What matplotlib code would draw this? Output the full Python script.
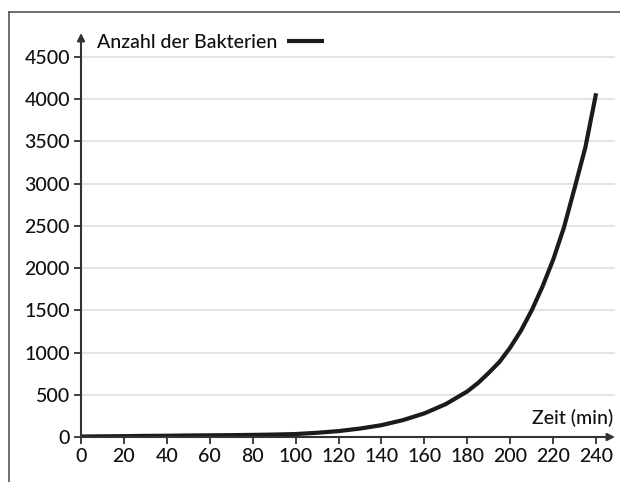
import matplotlib
matplotlib.use('Agg')
import matplotlib.pyplot as plt
from matplotlib.lines import Line2D

plt.rcParams['font.family'] = ['Lato', 'DejaVu Sans']
plt.rcParams['font.weight'] = 'medium'

# Zeit in Minuten und Anzahl der Bakterien
zeit = [0, 10, 20, 30, 40, 50, 60, 70, 80, 90, 100, 110, 120, 130, 140, 150,
        160, 170, 180, 185, 190, 195, 200, 205, 210, 215, 220, 225, 230, 235, 240]
anzahl = [5, 8, 10, 13, 15, 18, 20, 22, 25, 29, 35, 50, 70, 100, 140, 200,
          280, 390, 540, 640, 760, 890, 1060, 1260, 1500, 1780, 2100, 2480, 2950, 3430, 4070]

x_ticks = list(range(0, 241, 20))
y_ticks = list(range(0, 4501, 500))

label_serie = 'Anzahl der Bakterien'
label_x = 'Zeit (min)'

text_color = '#111111'

fig = plt.figure(figsize=(6.2, 4.82), dpi=100)
ax = fig.add_axes([81 / 620, 45 / 482, 534 / 620, 404 / 482])

ax.plot(zeit, anzahl, color='#1c1a1b', lw=3.0, solid_capstyle='butt',
        solid_joinstyle='round', label=label_serie, zorder=3)

ax.set_xlim(0, 248.8)
ax.set_ylim(0, 4784)
ax.set_xticks(x_ticks)
ax.set_yticks(y_ticks)
ax.tick_params(axis='both', labelsize=14, colors='#333333', labelcolor=text_color,
               length=5, width=1.3, direction='out')
ax.tick_params(axis='x', pad=3)
ax.tick_params(axis='y', pad=3)

ax.grid(axis='y', color='#dcdcdc', lw=1.1)
ax.set_axisbelow(True)
for s in ax.spines.values():
    s.set_visible(False)

arrow = dict(arrowstyle='-|>', color='#333333', lw=1.5, mutation_scale=11,
             shrinkA=0, shrinkB=0)
ax.annotate('', xy=(1, 0), xytext=(0, 0), xycoords='axes fraction', arrowprops=arrow)
ax.annotate('', xy=(0, 1), xytext=(0, 0), xycoords='axes fraction', arrowprops=arrow)

ax.text(0.9966, 0.047, label_x, transform=ax.transAxes, ha='right', va='center',
        fontsize=14, color=text_color)

ax.legend(loc='upper left', bbox_to_anchor=(0.015, 1.018), frameon=False,
          markerfirst=False, fontsize=14, handlelength=1.9, handletextpad=0.5,
          labelcolor=text_color, borderaxespad=0)

# Rahmen (oben und links)
fig.add_artist(Line2D([9 / 620, 1], [1 - 12 / 482, 1 - 12 / 482],
                      transform=fig.transFigure, color='#555555', lw=1.2))
fig.add_artist(Line2D([9 / 620, 9 / 620], [0, 1 - 12 / 482],
                      transform=fig.transFigure, color='#555555', lw=1.2))

fig.savefig('out.png', dpi=100)
